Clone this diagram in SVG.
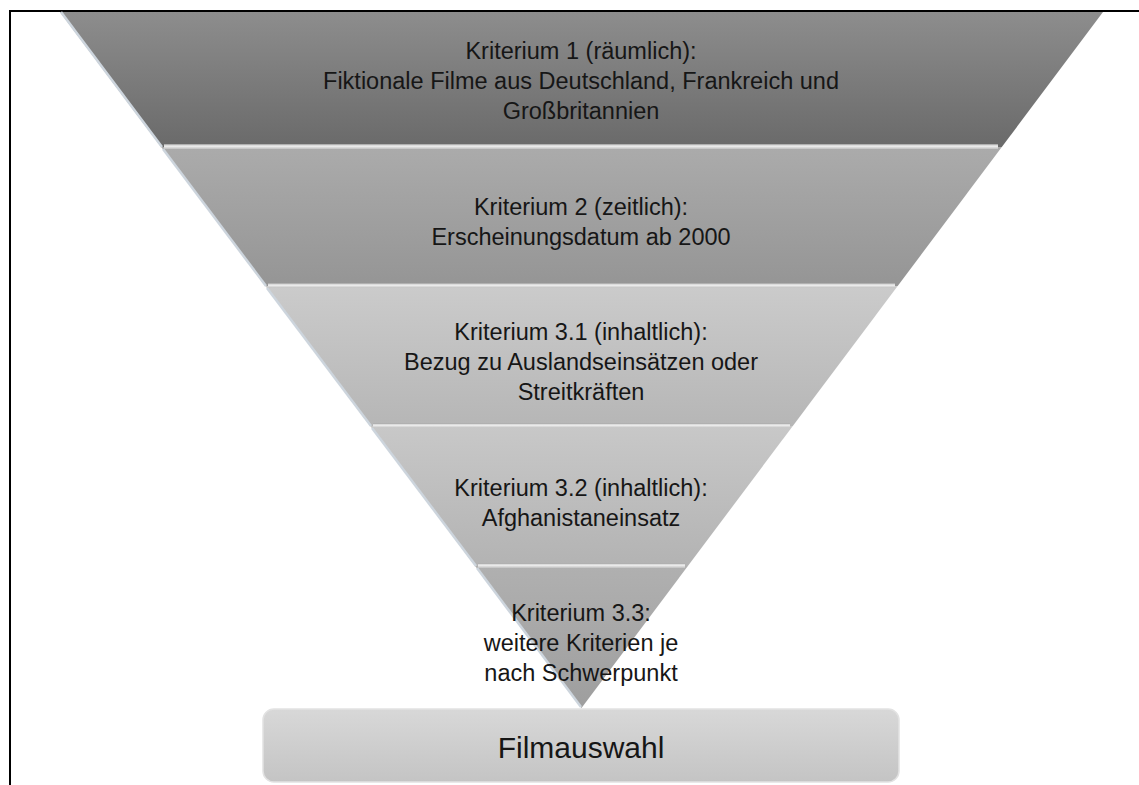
<svg xmlns="http://www.w3.org/2000/svg" width="1139" height="785" viewBox="0 0 1139 785">
<defs>
<linearGradient id="g1" x1="0" y1="0" x2="0" y2="1"><stop offset="0" stop-color="#8d8d8d"/><stop offset="1" stop-color="#6a6a6a"/></linearGradient>
<linearGradient id="g2" x1="0" y1="0" x2="0" y2="1"><stop offset="0" stop-color="#ababab"/><stop offset="1" stop-color="#959595"/></linearGradient>
<linearGradient id="g3" x1="0" y1="0" x2="0" y2="1"><stop offset="0" stop-color="#cbcbcb"/><stop offset="1" stop-color="#b6b6b6"/></linearGradient>
<linearGradient id="g4" x1="0" y1="0" x2="0" y2="1"><stop offset="0" stop-color="#c8c8c8"/><stop offset="1" stop-color="#b3b3b3"/></linearGradient>
<linearGradient id="g5" x1="0" y1="0" x2="0" y2="1"><stop offset="0" stop-color="#b0b0b0"/><stop offset="1" stop-color="#9e9e9e"/></linearGradient>
<linearGradient id="gb" x1="0" y1="0" x2="0" y2="1"><stop offset="0" stop-color="#d8d8d8"/><stop offset="1" stop-color="#c4c4c4"/></linearGradient>
<linearGradient id="hl" x1="0" y1="0" x2="0" y2="1"><stop offset="0" stop-color="#9a9a9a"/><stop offset="0.4" stop-color="#f2f2f2"/><stop offset="1" stop-color="#c0c0c0"/></linearGradient>
</defs>
<style>
.t{font-family:"Liberation Sans",Arial,sans-serif;font-size:23.5px;fill:#161616;text-anchor:middle;dominant-baseline:central}
.edge{stroke:#cdd5dd;stroke-width:2.5;fill:none}
.frame{stroke:#000;stroke-width:2;fill:none}
</style>
<g id="frame">
<path class="frame" d="M10 785 V11 H1139"/>
</g>
<g id="band1">
<polygon points="60,12 1103,12 1001.8,147 161.2,147" fill="url(#g1)"/>
<line class="edge" x1="61" y1="12" x2="162" y2="147"/>
<text class="t" x="581" y="51">Kriterium 1 (räumlich):</text>
<text class="t" x="581" y="81">Fiktionale Filme aus Deutschland, Frankreich und</text>
<text class="t" x="581" y="111">Großbritannien</text>
</g>
<g id="band2">
<polygon points="161.2,147 1001.8,147 897.7,286 265.3,286" fill="url(#g2)"/>
<rect x="164" y="144" width="834" height="5" fill="url(#hl)"/>
<line class="edge" x1="163" y1="149" x2="266" y2="286"/>
<text class="t" x="581" y="207">Kriterium 2 (zeitlich):</text>
<text class="t" x="581" y="237">Erscheinungsdatum ab 2000</text>
</g>
<g id="band3">
<polygon points="265.3,286 897.7,286 792.8,426 370.2,426" fill="url(#g3)"/>
<rect x="268" y="283" width="627" height="5" fill="url(#hl)"/>
<line class="edge" x1="267" y1="288" x2="371" y2="426"/>
<text class="t" x="581" y="332">Kriterium 3.1 (inhaltlich):</text>
<text class="t" x="581" y="362">Bezug zu Auslandseinsätzen oder</text>
<text class="t" x="581" y="392">Streitkräften</text>
</g>
<g id="band4">
<polygon points="370.2,426 792.8,426 687.9,566 475.1,566" fill="url(#g4)"/>
<rect x="373" y="423" width="417" height="5" fill="url(#hl)"/>
<line class="edge" x1="372" y1="428" x2="476" y2="566"/>
<text class="t" x="581" y="488">Kriterium 3.2 (inhaltlich):</text>
<text class="t" x="581" y="518">Afghanistaneinsatz</text>
</g>
<g id="band5">
<polygon points="475.1,566 687.9,566 581.5,708" fill="url(#g5)"/>
<rect x="478" y="563" width="207" height="5" fill="url(#hl)"/>
<line class="edge" x1="477" y1="568" x2="581" y2="707"/>
<text class="t" x="581" y="613">Kriterium 3.3:</text>
<text class="t" x="581" y="643">weitere Kriterien je</text>
<text class="t" x="581" y="673">nach Schwerpunkt</text>
</g>
<g id="result">
<rect x="263" y="709" width="636" height="73" rx="11" fill="url(#gb)" stroke="#e2e2e2" stroke-width="1.5"/>
<text class="t" x="581" y="747" style="font-size:30px">Filmauswahl</text>
</g>
</svg>
